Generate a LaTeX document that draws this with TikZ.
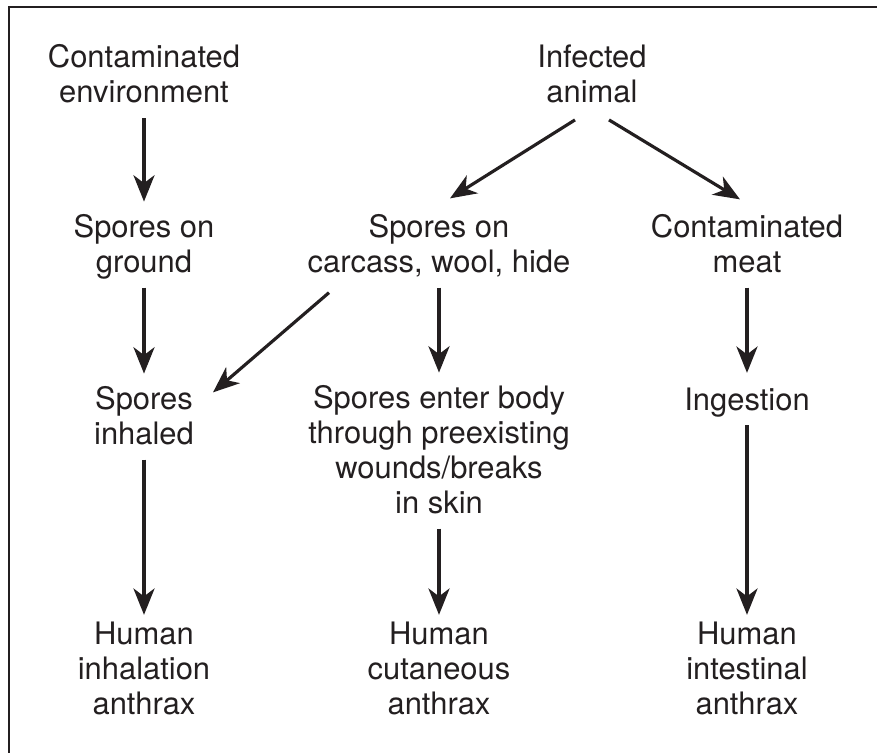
\documentclass[tikz,border=0pt]{standalone}
\usepackage{fontspec}
\setmainfont{TeX Gyre Heros}
\usepackage{xcolor}
\usepackage{tikz}
\usetikzlibrary{arrows.meta}
\definecolor{cink}{HTML}{231F20}

\tikzset{
  lbl/.style={text=cink,inner sep=0pt,align=center,
    font=\fontsize{17.6}{19.9}\selectfont,
    execute at begin node=\strut,execute at end node=\strut},
  arr/.style={draw=cink,line width=1.8pt,
    -{Stealth[length=15pt,width=12pt,inset=4.5pt]},
    shorten <=2.5pt,shorten >=7pt},
  arrlow/.style={arr,shorten >=3.6pt},
  diag/.style={arr,shorten <=0pt,shorten >=0pt}
}

\begin{document}
\begin{tikzpicture}
  \useasboundingbox (0,0) rectangle (17.54,-15.06);
  \draw[cink,line width=1.2pt] (0.18,-15.06) |- (17.54,-0.14);

  \node[lbl] (env) at (2.88,-1.58) {Contaminated\\environment};
  \node[lbl] (animal) at (11.84,-1.58) {Infected\\animal};
  \node[lbl] (ground) at (2.88,-4.97) {Spores on\\ground};
  \node[lbl] (carcass) at (8.78,-4.97) {Spores on\\carcass, wool, hide};
  \node[lbl] (meat) at (14.94,-4.97) {Contaminated\\meat};
  \node[lbl] (inhaled) at (2.88,-8.41) {Spores\\inhaled};
  \node[lbl] (enter) at (8.78,-9.09) {Spores enter body\\through preexisting\\wounds/breaks\\in skin};
  \node[lbl] (ingest) at (14.94,-8.06) {Ingestion};
  \node[lbl] (hinh) at (2.88,-13.46) {Human\\inhalation\\anthrax};
  \node[lbl] (hcut) at (8.78,-13.46) {Human\\cutaneous\\anthrax};
  \node[lbl] (hint) at (14.94,-13.46) {Human\\intestinal\\anthrax};

  \draw[arr] (env) -- (ground);
  \draw[arr] (ground) -- (inhaled);
  \draw[arrlow] (inhaled) -- (hinh);
  \draw[diag] ([shift={(-0.34,-0.13)}]animal.south) -- ([shift={(0.22,0.31)}]carcass.north);
  \draw[diag] ([shift={(0.34,-0.13)}]animal.south) -- ([shift={(-0.14,0.29)}]meat.north);
  \draw[diag] ([shift={(-2.2,-0.19)}]carcass.south) -- ([shift={(1.38,-0.13)}]inhaled.north);
  \draw[arr] (carcass) -- (enter);
  \draw[arrlow] (enter) -- (hcut);
  \draw[arr] (meat) -- (ingest);
  \draw[arrlow] (ingest) -- (hint);
\end{tikzpicture}
\end{document}
